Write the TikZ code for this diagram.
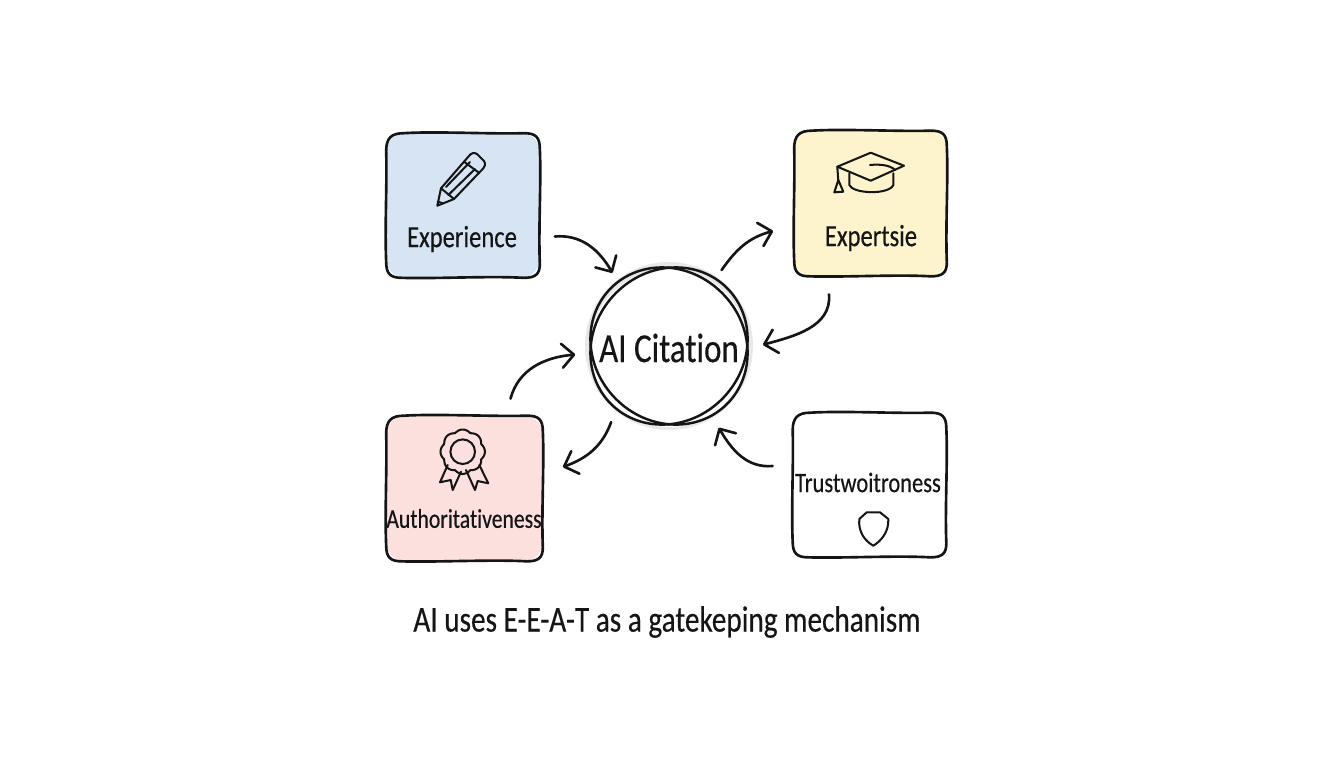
\documentclass[tikz,border=0pt]{standalone}
\usepackage{fontspec}
\setmainfont[FakeStretch=0.8,FakeBold=0.35,Ligatures=NoCommon]{Carlito}
\usetikzlibrary{arrows.meta}

\definecolor{inkblack}{HTML}{151515}
\definecolor{expblue}{HTML}{D6E4F3}
\definecolor{expyellow}{HTML}{FDF3CD}
\definecolor{authpink}{HTML}{FBE0DE}

\tikzset{
    boxnode/.style={rounded corners=0.36cm},
    boxlabel/.style={text=inkblack, inner sep=0pt, font=\fontsize{#1}{20}\selectfont},
    boxlabel/.default=17.5,
    outline/.style={draw=inkblack, line width=1.5pt, line join=round},
    flow/.style={draw=inkblack, line width=1.5pt, line cap=round,
        -{Straight Barb[length=2.4mm, width=4.8mm, round]}},
    icon/.style={draw=inkblack, line width=1.15pt, line join=round, line cap=round},
    ring/.style={draw=inkblack, line width=1.4pt},
}

\begin{document}
\begin{tikzpicture}[x=0.02cm, y=-0.02cm]

    \useasboundingbox (0,0) rectangle (1344,768);

    % Halo behind the central circle
    \fill[black!9] (669,346) circle (84);

    % Central circle
    \node[circle, fill=white, outer sep=0.3cm, minimum size=3.16cm, inner sep=0pt,
        text=inkblack, font=\fontsize{23.5}{26}\selectfont] (cite) at (669,348) {AI Citation};
    \draw[ring, rotate around={45:(669,346)}] (669,346) ellipse (82 and 75);
    \draw[ring, rotate around={-45:(669,346)}] (669,346) ellipse (82 and 75);

    % Four boxes
    \node[boxnode, fill=expblue, minimum width=3.06cm, minimum height=2.88cm] (exp) at (463,205.5) {};
    \node[boxnode, fill=expyellow, minimum width=3.04cm, minimum height=2.9cm] (expert) at (870.5,203.5) {};
    \node[boxnode, fill=authpink, minimum width=3.12cm, minimum height=2.9cm] (auth) at (464.5,488.5) {};
    \node[boxnode, fill=white, minimum width=3.06cm, minimum height=2.88cm] (trust) at (869.5,485) {};

    % Slightly uneven box outlines
    \foreach \b in {exp,expert,auth,trust} {
        \draw[outline] ([shift={(18,0)}]\b.north west)
            .. controls ([shift={(50,-2)}]\b.north west) and ([shift={(-50,1)}]\b.north east) .. ([shift={(-16,0)}]\b.north east)
            .. controls ([shift={(-4,0)}]\b.north east) and ([shift={(0,4)}]\b.north east) .. ([shift={(0,16)}]\b.north east)
            .. controls ([shift={(1.5,50)}]\b.north east) and ([shift={(-1.5,-50)}]\b.south east) .. ([shift={(0,-14)}]\b.south east)
            .. controls ([shift={(0,-4)}]\b.south east) and ([shift={(-4,0)}]\b.south east) .. ([shift={(-16,0)}]\b.south east)
            .. controls ([shift={(-50,-2)}]\b.south east) and ([shift={(50,1)}]\b.south west) .. ([shift={(16,0)}]\b.south west)
            .. controls ([shift={(4,0)}]\b.south west) and ([shift={(0,-4)}]\b.south west) .. ([shift={(0,-16)}]\b.south west)
            .. controls ([shift={(-1.5,-50)}]\b.south west) and ([shift={(1,50)}]\b.north west) .. ([shift={(0,18)}]\b.north west)
            .. controls ([shift={(0,5)}]\b.north west) and ([shift={(5,0)}]\b.north west) .. cycle;
    }

    % Box labels
    \node[boxlabel] (explabel) at (462,239) {Experience};
    \node[boxlabel] (expertlabel) at (871,238) {Expertsie};
    \node[boxlabel=15.4] (authlabel) at (464,518.5) {Authoritativeness};
    \node[boxlabel=16] (trustlabel) at (868,482.5) {Trustwoitroness};

    % Arrows between boxes and circle
    \draw[flow] ([shift={(15,31)}]exp.east) to[out=5, in=120] (cite.127);
    \draw[flow] (cite.56) to[out=55, in=195] ([shift={(-21,27.5)}]expert.west);
    \draw[flow] ([shift={(-41.5,18)}]expert.south) to[out=-85, in=15] (cite.2);
    \draw[flow] ([shift={(-20,-19)}]trust.west) to[out=185, in=-60] (cite.-58);
    \draw[flow] (cite.-128) to[out=-110, in=20] ([shift={(20,-21.5)}]auth.east);
    \draw[flow] ([shift={(46,-17)}]auth.north) to[out=75, in=185] (cite.184);

    % Pencil
    \draw[icon] (437.3,205.7) -- (441,188.3) -- (468.3,156.7)
        .. controls (471,153) and (474,152) .. (477,154)
        -- (484,161) .. controls (486,164) and (485,167) .. (481.7,170)
        -- (454,199) -- cycle;
    \draw[icon] (441,188.3) -- (454,199);
    \draw[icon] (464,161.7) -- (479.3,173);
    \draw[icon] (448.3,195) -- (475,169);
    \draw[icon] (446,187) -- (470,162);
    \draw[icon] (437.8,201.5) -- (443,203.5);

    % Graduation cap
    \draw[icon] (837.3,166.7) -- (870.7,152.7) -- (904,165.7) -- (870.7,180.7) -- cycle;
    \draw[icon] (849.3,173.3) -- (849.3,185) .. controls (853,194) and (889,195) .. (893.3,185) -- (893.3,173.3);
    \draw[icon] (870,165) .. controls (880,164) and (890,165) .. (895,170);
    \draw[icon] (837.3,166.7) -- (838.3,181);
    \draw[icon] (838.3,180) -- (834.3,192.3) -- (843.3,191.7) -- cycle;

    % Ribbon
    \draw[icon] plot[domain=0:360, samples=145, smooth] ([shift={(462.7,451.7)}]\x:{20+2.2*abs(cos(4*\x))}) -- cycle;
    \draw[icon] (462.7,451.7) circle (12.3);
    \draw[icon] (447.7,465) -- (440,482.3) -- (450.7,480) -- (452.7,490) -- (461,471.7);
    \draw[icon] (466,470) -- (475,490) -- (477.7,481) -- (488.3,483.3) -- (479.3,465);

    % Shield
    \draw[icon] (866.7,512.3) -- (880,512.3) -- (888.3,519)
        .. controls (889,532) and (881,541) .. (873.3,545.7)
        .. controls (865,541) and (858,532) .. (859.3,519) -- cycle;

    % Caption
    \node[text=inkblack, inner sep=0pt, font=\fontsize{20.8}{24}\selectfont] (caption) at (667,622)
        {AI uses E-E-A-T as a gatekeping mechanism};

\end{tikzpicture}
\end{document}
